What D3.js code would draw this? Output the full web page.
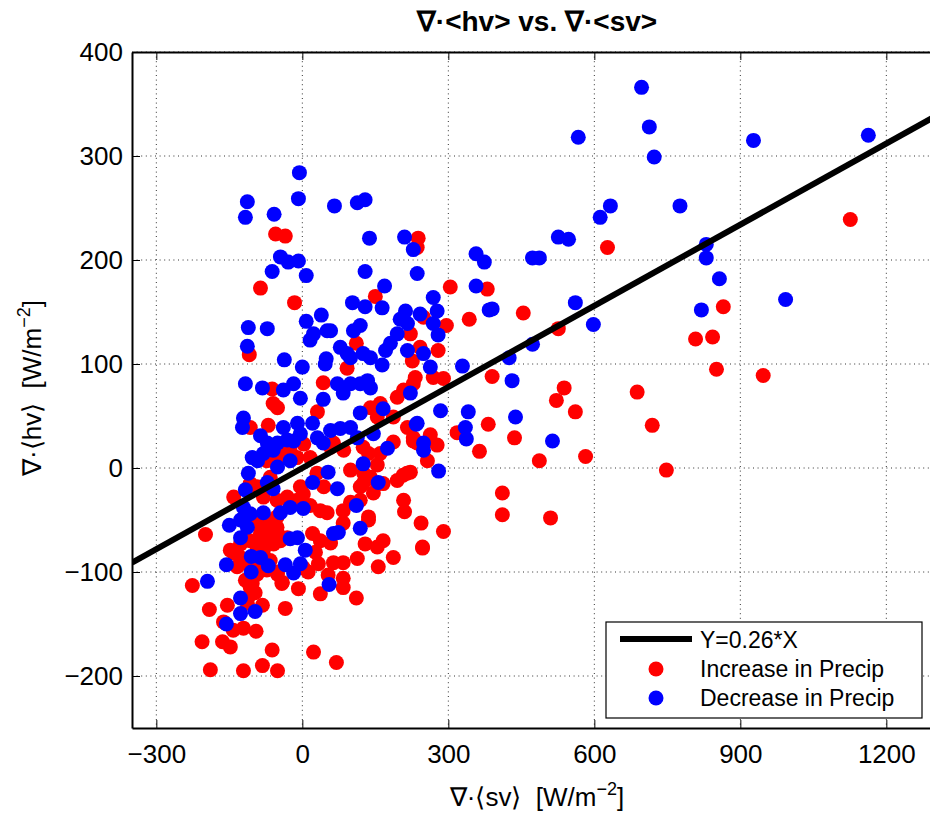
<!DOCTYPE html>
<html><head><meta charset="utf-8">
<script src="https://cdn.jsdelivr.net/npm/d3@7"></script>
<style>
body{margin:0;background:#fff;}
text{font-family:"Liberation Sans",Arial,Helvetica,sans-serif;fill:#000;white-space:pre;}
</style></head>
<body><svg id="chart" width="930" height="816"></svg>
<script>
const title = "∇·<hv> vs. ∇·<sv>";
const xTicks = [-300, 0, 300, 600, 900, 1200];
const yTicks = [-200, -100, 0, 100, 200, 300, 400];
const slope = 0.26;
const fitLabel = "Y=0.26*X";
const seriesNames = ["Increase in Precip", "Decrease in Precip"];

// Increase in Precip (red): [∇·<sv>, ∇·<hv>]
const increase = [
[1126,239],[627,212],[865,155],[808,124],[843,126],[851,95],[947,89],[380,172],[454,149],[343,143],[304,174],[526,134],[390,88],[538,77],[522,65],[561,54],[688,73],[719,41],[748,-2],[382,42],[436,29],[364,16],[318,34],[487,7],[582,11],[411,-24],[411,-45],[510,-48],[290,-61],[247,-77],[244,-53],[210,-42],[263,32],[228,26],[277,22],[257,7],[216,39],[222,-4],[207,-7],[208,-31],
[-55,225],[-35,223],[238,221],[236,212],[-86,173],[-16,159],[150,165],[249,145],[296,137],[222,129],[279,113],[242,116],[111,120],[92,96],[226,103],[-109,109],[43,82],[232,87],[269,87],[290,86],[-62,76],[-60,62],[-51,58],[31,54],[-107,39],[-70,41],[140,58],[160,62],[195,68],[208,75],[228,81],[187,49],[154,49],[228,29],[64,24],[125,20],[187,25],[-31,24],
[-199,-64],[-226,-113],[-191,-136],[-154,-132],[-162,-148],[-142,-156],[-121,-154],[-95,-157],[-206,-167],[-164,-167],[-148,-172],[-62,-175],[-189,-194],[-121,-195],[-82,-190],[-51,-195],[23,-177],[70,-187],[-35,-135],[-113,-130],[-97,-120],[-111,-124],[-82,-132],[-107,-115],[-8,-116],[37,-121],[84,-115],[84,-106],[111,-125],[53,-103],[-41,-110],[-51,-102],[12,-100],[2,-96],[33,-92],[64,-91],[84,-91],[113,-87],[156,-95],[187,-86],[154,-76],[129,-73],[166,-70],[247,-76],[236,24],
[160,14],[136,14],[154,3],[140,-9],[125,-15],[166,-15],[146,-24],[119,-31],[99,-33],[84,-41],
[136,-50],[136,-47],[84,-53],[58,-72],[37,-70],[27,-81],[21,-63],[51,-43],[37,-41],[16,-36],[2,-25],[-10,-31],[-25,-36],[-31,-67],[-51,-63],
[-80,-50],[-66,-54],[-52,-57],[-86,-63],[-73,-70],[-59,-73],[-93,-76],[-80,-79],[-66,-63],[-52,-47],[-93,-54],[-45,-70],[-107,-70],[-127,-73],[-141,-82],[-148,-79],[-134,-95],[-127,-86],[-114,-92],[-100,-89],[-80,-95],[-66,-89],[-117,-108],[-103,-111],[-93,-102],[-73,-98],[-52,-100],[-42,-111],
[-141,-28],[-107,-15],[-66,-9],[-73,7],[-45,10],[-25,17],[-11,10],[16,10],[30,-5],[44,-18],[-4,-18],[-31,-28],[-52,-31],[-80,-28],[-93,-18],[-45,23],[3,23],[58,20],[85,17],[99,-2],[126,-5],[154,-15],[119,-18],[195,-12],[215,-5]
];

// Decrease in Precip (blue)
const decrease = [
[697,366],[713,328],[723,299],[567,318],[927,315],[1163,320],[776,252],[633,252],[612,241],[526,222],[547,220],[830,215],[830,202],[857,182],[993,162],[820,152],[561,159],[598,138],[473,202],[487,202],[357,206],[374,198],[357,175],[384,152],[390,153],[473,119],[425,106],[329,98],[431,84],[341,54],[335,39],[337,28],[438,49],[514,26],
[234,42],[249,17],[280,-3],
[-6,284],[-113,256],[-117,241],[-58,244],[-8,259],[66,252],[113,255],[129,258],[138,221],[210,222],[228,210],[-45,203],[-29,198],[-8,199],[-62,189],[8,185],[129,189],[236,187],[169,175],[269,164],[277,151],[103,159],[129,155],[164,154],[39,147],[8,141],[23,129],[51,132],[58,132],[16,123],[105,132],[119,137],[201,143],[212,151],[242,148],[216,139],[195,129],[181,120],[171,113],[269,139],[279,128],[-111,135],[-72,134],[-113,117],[-37,104],[0,97],[49,105],[47,100],[78,116],[92,110],[99,106],[125,110],[140,106],[164,99],[216,113],[249,110],[263,97],[-117,81],[-82,77],[-18,81],[-4,67],[-39,75],[43,66],[72,81],[84,72],[99,81],[119,81],[140,77],[134,84],[166,57],[222,72],[284,55],[-121,48],[-123,39],[-39,39],[-10,43],[21,43],[-4,33],[-18,26],[-86,31],[-72,24],[-51,24],[58,36],[78,38],[99,39],[119,53],[146,33],[113,29],[31,29],[43,24],[175,19],[236,43],[249,24],
[-195,-109],[-156,-93],[-150,-55],[-105,-85],[-86,-86],[-105,-100],[-35,-93],[-18,-101],[-4,-92],[6,-79],[-70,-94],[-127,-125],[-127,-140],[-97,-138],[-156,-150],[55,-112],[-25,-68],[-10,-67],[2,-39],[64,-63],[74,-62],[119,-58],[111,-36],[72,-20],[53,-4],[21,-14],[-103,10],[-111,-5],[-117,-21],[-121,-38],[-127,-50],[-113,-57],[-127,-67],[-107,-44],[-80,-43],[-72,-14],[-60,-20],[-25,-38],[-45,-43],[-31,27],[-60,17],[-25,7],[-51,1],[-80,14],[-92,7],[125,4],[156,-14]
];

const colors = ["#ff0000", "#0000ff"];

const svg = d3.select("#chart");
const M = {left: 132, right: 935, top: 52, bottom: 728};
const x = d3.scaleLinear().domain([-350, 1300]).range([M.left, M.right]);
const y = d3.scaleLinear().domain([-250, 400]).range([M.bottom, M.top]);

svg.append("defs").append("clipPath").attr("id","clip")
  .append("rect").attr("x", M.left).attr("y", M.top).attr("width", M.right - M.left).attr("height", M.bottom - M.top);

// grid
const grid = svg.append("g").attr("stroke", "#333").attr("stroke-width", 1).attr("stroke-dasharray", "1,3.6");
grid.selectAll(".gx").data(xTicks).join("line")
  .attr("x1", d => x(d)).attr("x2", d => x(d)).attr("y1", M.top).attr("y2", M.bottom);
grid.selectAll(".gy").data(yTicks).join("line")
  .attr("y1", d => y(d)).attr("y2", d => y(d)).attr("x1", M.left).attr("x2", M.right);

const plot = svg.append("g").attr("clip-path", "url(#clip)");
const r = 7.5;
plot.append("g").selectAll("circle").data(increase).join("circle")
  .attr("cx", d => x(d[0])).attr("cy", d => y(d[1])).attr("r", r).attr("fill", colors[0]);
plot.append("g").selectAll("circle").data(decrease).join("circle")
  .attr("cx", d => x(d[0])).attr("cy", d => y(d[1])).attr("r", r).attr("fill", colors[1]);

const xd = x.domain();
plot.append("line")
  .attr("x1", x(xd[0])).attr("y1", y(slope * xd[0]))
  .attr("x2", x(xd[1])).attr("y2", y(slope * xd[1]))
  .attr("stroke", "#000").attr("stroke-width", 6);

// axes
const fs = "26px";
const fmt = d => d < 0 ? "\u2212" + Math.abs(d) : d;
const xAxis = d3.axisBottom(x).tickValues(xTicks).tickSizeInner(-8).tickSizeOuter(0).tickPadding(17).tickFormat(fmt);
const gx = svg.append("g").attr("transform", `translate(0,${M.bottom})`).call(xAxis);
gx.selectAll("text").style("font-size", fs).attr("fill", "#000");
gx.selectAll("line").attr("stroke", "#000");
gx.select(".domain").attr("stroke", "#000").attr("stroke-width", 2);

const xTop = d3.axisTop(x).tickValues(xTicks).tickSizeInner(-8).tickSizeOuter(0).tickFormat("");
const gxt = svg.append("g").attr("transform", `translate(0,${M.top})`).call(xTop);
gxt.selectAll("line").attr("stroke", "#000");
gxt.select(".domain").attr("stroke", "#000").attr("stroke-width", 2);

const yAxis = d3.axisLeft(y).tickValues(yTicks).tickSizeInner(-8).tickSizeOuter(0).tickPadding(9).tickFormat(fmt);
const gy = svg.append("g").attr("transform", `translate(${M.left},0)`).call(yAxis);
gy.selectAll("text").style("font-size", fs).attr("fill", "#000");
gy.selectAll("line").attr("stroke", "#000");
gy.select(".domain").attr("stroke", "#000").attr("stroke-width", 2);

// title
svg.append("text").attr("x", 537).attr("y", 31).attr("text-anchor", "middle")
  .style("font-size", "28px").style("font-weight", "bold").text(title);

// x label
const xl = svg.append("text").attr("x", 537).attr("y", 806).attr("text-anchor", "middle").style("font-size", "26px");
xl.append("tspan").text("∇·⟨sv⟩  [W/m");
xl.append("tspan").attr("dy", -11).style("font-size", "18px").text("−2");
xl.append("tspan").attr("dy", 11).text("]");

// y label
const yl = svg.append("text").attr("transform", "translate(41,388) rotate(-90)").attr("text-anchor", "middle").style("font-size", "26px");
yl.append("tspan").text("∇·⟨hv⟩  [W/m");
yl.append("tspan").attr("dy", -11).style("font-size", "18px").text("−2");
yl.append("tspan").attr("dy", 11).text("]");

// legend
const lg = svg.append("g");
lg.append("rect").attr("x", 606).attr("y", 622).attr("width", 316).attr("height", 96)
  .attr("fill", "#fff").attr("stroke", "#000").attr("stroke-width", 1.2);
lg.append("line").attr("x1", 620).attr("x2", 692).attr("y1", 639).attr("y2", 639).attr("stroke", "#000").attr("stroke-width", 6);
lg.append("text").attr("x", 700).attr("y", 640).attr("dy", "0.35em").style("font-size", "23px").text(fitLabel);
seriesNames.forEach((n, i) => {
  const yy = 669 + i * 29;
  lg.append("circle").attr("cx", 656).attr("cy", yy).attr("r", r).attr("fill", colors[i]);
  lg.append("text").attr("x", 700).attr("y", yy).attr("dy", "0.35em").style("font-size", "23px").text(n);
});
</script></body></html>
